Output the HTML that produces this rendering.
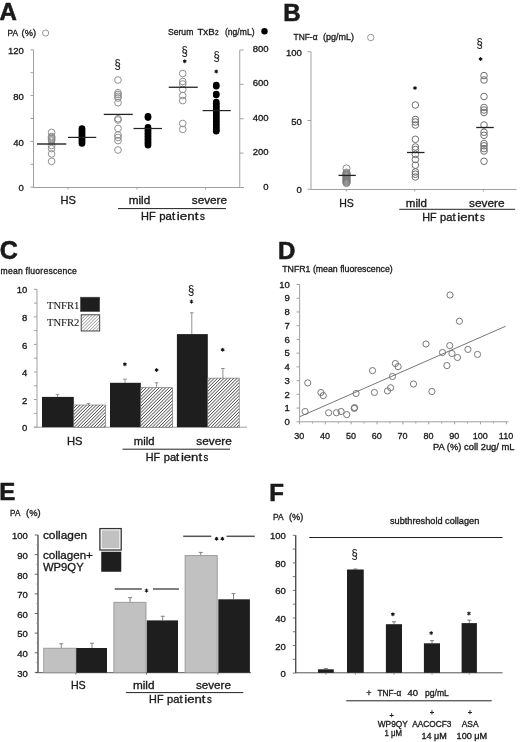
<!DOCTYPE html>
<html><head><meta charset="utf-8"><title>Figure</title>
<style>
html,body{margin:0;padding:0;background:#fff;}
body{width:520px;height:742px;overflow:hidden;}
svg{display:block;font-family:"Liberation Sans",sans-serif;will-change:transform;}
</style></head><body>
<svg width="520" height="742" viewBox="0 0 520 742" fill="#1a1a1a">
<rect width="520" height="742" fill="#fff"/>
<text x="-0.50" y="20.30" font-size="24" stroke="#1a1a1a" stroke-width="0.6" font-weight="bold">A</text>
<text x="7.60" y="35.60" font-size="9" stroke="#1a1a1a" stroke-width="0.32" textLength="10.60" lengthAdjust="spacingAndGlyphs">PA</text>
<text x="21.60" y="35.60" font-size="9" stroke="#1a1a1a" stroke-width="0.32" textLength="14.40" lengthAdjust="spacingAndGlyphs">(%)</text>
<circle cx="45.60" cy="33.00" r="3.1" fill="none" stroke="#8a8a8a" stroke-width="0.9"/>
<line x1="33.50" y1="49.80" x2="33.50" y2="187.50" stroke="#a0a0a0" stroke-width="1"/>
<line x1="30.50" y1="187.20" x2="33.50" y2="187.20" stroke="#a0a0a0" stroke-width="1"/>
<line x1="30.50" y1="164.30" x2="33.50" y2="164.30" stroke="#a0a0a0" stroke-width="1"/>
<line x1="30.50" y1="141.40" x2="33.50" y2="141.40" stroke="#a0a0a0" stroke-width="1"/>
<line x1="30.50" y1="118.50" x2="33.50" y2="118.50" stroke="#a0a0a0" stroke-width="1"/>
<line x1="30.50" y1="95.60" x2="33.50" y2="95.60" stroke="#a0a0a0" stroke-width="1"/>
<line x1="30.50" y1="72.70" x2="33.50" y2="72.70" stroke="#a0a0a0" stroke-width="1"/>
<line x1="30.50" y1="49.80" x2="33.50" y2="49.80" stroke="#a0a0a0" stroke-width="1"/>
<text x="23.80" y="191.34" font-size="9" stroke="#1a1a1a" stroke-width="0.32" text-anchor="end" textLength="5.30" lengthAdjust="spacingAndGlyphs">0</text>
<text x="23.80" y="145.54" font-size="9" stroke="#1a1a1a" stroke-width="0.32" text-anchor="end" textLength="10.60" lengthAdjust="spacingAndGlyphs">40</text>
<text x="23.80" y="99.74" font-size="9" stroke="#1a1a1a" stroke-width="0.32" text-anchor="end" textLength="10.60" lengthAdjust="spacingAndGlyphs">80</text>
<text x="23.80" y="53.94" font-size="9" stroke="#1a1a1a" stroke-width="0.32" text-anchor="end" textLength="15.90" lengthAdjust="spacingAndGlyphs">120</text>
<line x1="33.00" y1="187.50" x2="244.00" y2="187.50" stroke="#a0a0a0" stroke-width="1"/>
<line x1="68.00" y1="187.50" x2="68.00" y2="189.50" stroke="#a0a0a0" stroke-width="1"/>
<line x1="137.00" y1="187.50" x2="137.00" y2="189.50" stroke="#a0a0a0" stroke-width="1"/>
<line x1="205.50" y1="187.50" x2="205.50" y2="189.50" stroke="#a0a0a0" stroke-width="1"/>
<line x1="239.75" y1="50.00" x2="239.75" y2="187.50" stroke="#a0a0a0" stroke-width="1"/>
<line x1="239.75" y1="187.50" x2="243.50" y2="187.50" stroke="#a0a0a0" stroke-width="1"/>
<text x="268.60" y="189.54" font-size="9" stroke="#1a1a1a" stroke-width="0.32" text-anchor="end" textLength="5.30" lengthAdjust="spacingAndGlyphs">0</text>
<line x1="239.75" y1="153.12" x2="243.50" y2="153.12" stroke="#a0a0a0" stroke-width="1"/>
<text x="268.60" y="155.17" font-size="9" stroke="#1a1a1a" stroke-width="0.32" text-anchor="end" textLength="15.90" lengthAdjust="spacingAndGlyphs">200</text>
<line x1="239.75" y1="118.75" x2="243.50" y2="118.75" stroke="#a0a0a0" stroke-width="1"/>
<text x="268.60" y="120.79" font-size="9" stroke="#1a1a1a" stroke-width="0.32" text-anchor="end" textLength="15.90" lengthAdjust="spacingAndGlyphs">400</text>
<line x1="239.75" y1="84.38" x2="243.50" y2="84.38" stroke="#a0a0a0" stroke-width="1"/>
<text x="268.60" y="86.41" font-size="9" stroke="#1a1a1a" stroke-width="0.32" text-anchor="end" textLength="15.90" lengthAdjust="spacingAndGlyphs">600</text>
<line x1="239.75" y1="50.00" x2="243.50" y2="50.00" stroke="#a0a0a0" stroke-width="1"/>
<text x="268.60" y="52.04" font-size="9" stroke="#1a1a1a" stroke-width="0.32" text-anchor="end" textLength="15.90" lengthAdjust="spacingAndGlyphs">800</text>
<text x="168.00" y="34.60" font-size="9" stroke="#1a1a1a" stroke-width="0.32" textLength="25.30" lengthAdjust="spacingAndGlyphs">Serum</text>
<text x="197.40" y="34.60" font-size="9" stroke="#1a1a1a" stroke-width="0.32" textLength="17.20" lengthAdjust="spacingAndGlyphs">TxB</text>
<text x="214.90" y="34.60" font-size="6.5" stroke="#1a1a1a" stroke-width="0.32">2</text>
<text x="225.00" y="34.60" font-size="9" stroke="#1a1a1a" stroke-width="0.32" textLength="29.50" lengthAdjust="spacingAndGlyphs">(ng/mL)</text>
<circle cx="264.50" cy="31.25" r="3.2" fill="#000" stroke="none" stroke-width="1"/>
<circle cx="51.60" cy="132.40" r="3.35" fill="none" stroke="#8a8a8a" stroke-width="0.95"/>
<circle cx="51.60" cy="136.50" r="3.35" fill="none" stroke="#8a8a8a" stroke-width="0.95"/>
<circle cx="51.60" cy="137.60" r="3.35" fill="none" stroke="#8a8a8a" stroke-width="0.95"/>
<circle cx="51.60" cy="138.70" r="3.35" fill="none" stroke="#8a8a8a" stroke-width="0.95"/>
<circle cx="51.60" cy="139.80" r="3.35" fill="none" stroke="#8a8a8a" stroke-width="0.95"/>
<circle cx="51.60" cy="141.00" r="3.35" fill="none" stroke="#8a8a8a" stroke-width="0.95"/>
<circle cx="51.60" cy="145.50" r="3.35" fill="none" stroke="#8a8a8a" stroke-width="0.95"/>
<circle cx="51.60" cy="148.60" r="3.35" fill="none" stroke="#8a8a8a" stroke-width="0.95"/>
<circle cx="51.60" cy="153.90" r="3.35" fill="none" stroke="#8a8a8a" stroke-width="0.95"/>
<circle cx="51.60" cy="161.30" r="3.35" fill="none" stroke="#8a8a8a" stroke-width="0.95"/>
<line x1="37.00" y1="144.00" x2="66.25" y2="144.00" stroke="#222" stroke-width="1.4"/>
<circle cx="82.00" cy="128.50" r="3.3" fill="#000" stroke="none" stroke-width="1"/>
<circle cx="82.00" cy="130.00" r="3.3" fill="#000" stroke="none" stroke-width="1"/>
<circle cx="82.00" cy="131.50" r="3.3" fill="#000" stroke="none" stroke-width="1"/>
<circle cx="82.00" cy="133.00" r="3.3" fill="#000" stroke="none" stroke-width="1"/>
<circle cx="82.00" cy="134.50" r="3.3" fill="#000" stroke="none" stroke-width="1"/>
<circle cx="82.00" cy="136.00" r="3.3" fill="#000" stroke="none" stroke-width="1"/>
<circle cx="82.00" cy="137.50" r="3.3" fill="#000" stroke="none" stroke-width="1"/>
<circle cx="82.00" cy="139.00" r="3.3" fill="#000" stroke="none" stroke-width="1"/>
<circle cx="82.00" cy="140.50" r="3.3" fill="#000" stroke="none" stroke-width="1"/>
<circle cx="82.00" cy="142.00" r="3.3" fill="#000" stroke="none" stroke-width="1"/>
<circle cx="82.00" cy="143.50" r="3.3" fill="#000" stroke="none" stroke-width="1"/>
<line x1="68.00" y1="137.40" x2="96.25" y2="137.40" stroke="#222" stroke-width="1.2"/>
<text x="117.50" y="67.99" font-size="13" stroke="#1a1a1a" stroke-width="0.12" text-anchor="middle" textLength="6.24" lengthAdjust="spacingAndGlyphs">&#167;</text>
<circle cx="118.00" cy="80.00" r="3.35" fill="none" stroke="#8a8a8a" stroke-width="0.95"/>
<circle cx="118.00" cy="92.80" r="3.35" fill="none" stroke="#8a8a8a" stroke-width="0.95"/>
<circle cx="118.00" cy="94.50" r="3.35" fill="none" stroke="#8a8a8a" stroke-width="0.95"/>
<circle cx="118.00" cy="96.30" r="3.35" fill="none" stroke="#8a8a8a" stroke-width="0.95"/>
<circle cx="118.00" cy="98.00" r="3.35" fill="none" stroke="#8a8a8a" stroke-width="0.95"/>
<circle cx="118.00" cy="102.70" r="3.35" fill="none" stroke="#8a8a8a" stroke-width="0.95"/>
<circle cx="118.00" cy="118.75" r="3.35" fill="none" stroke="#8a8a8a" stroke-width="0.95"/>
<circle cx="118.00" cy="120.00" r="3.35" fill="none" stroke="#8a8a8a" stroke-width="0.95"/>
<circle cx="118.00" cy="128.50" r="3.35" fill="none" stroke="#8a8a8a" stroke-width="0.95"/>
<circle cx="118.00" cy="135.00" r="3.35" fill="none" stroke="#8a8a8a" stroke-width="0.95"/>
<circle cx="118.00" cy="137.50" r="3.35" fill="none" stroke="#8a8a8a" stroke-width="0.95"/>
<circle cx="118.00" cy="140.60" r="3.35" fill="none" stroke="#8a8a8a" stroke-width="0.95"/>
<circle cx="118.00" cy="150.00" r="3.35" fill="none" stroke="#8a8a8a" stroke-width="0.95"/>
<line x1="103.75" y1="114.40" x2="132.75" y2="114.40" stroke="#222" stroke-width="1.3"/>
<circle cx="148.00" cy="116.20" r="3.3" fill="#000" stroke="none" stroke-width="1"/>
<circle cx="148.00" cy="117.60" r="3.3" fill="#000" stroke="none" stroke-width="1"/>
<circle cx="148.00" cy="127.20" r="3.3" fill="#000" stroke="none" stroke-width="1"/>
<circle cx="148.00" cy="128.70" r="3.3" fill="#000" stroke="none" stroke-width="1"/>
<circle cx="148.00" cy="130.20" r="3.3" fill="#000" stroke="none" stroke-width="1"/>
<circle cx="148.00" cy="131.70" r="3.3" fill="#000" stroke="none" stroke-width="1"/>
<circle cx="148.00" cy="133.20" r="3.3" fill="#000" stroke="none" stroke-width="1"/>
<circle cx="148.00" cy="134.70" r="3.3" fill="#000" stroke="none" stroke-width="1"/>
<circle cx="148.00" cy="136.20" r="3.3" fill="#000" stroke="none" stroke-width="1"/>
<circle cx="148.00" cy="137.70" r="3.3" fill="#000" stroke="none" stroke-width="1"/>
<circle cx="148.00" cy="139.20" r="3.3" fill="#000" stroke="none" stroke-width="1"/>
<circle cx="148.00" cy="140.70" r="3.3" fill="#000" stroke="none" stroke-width="1"/>
<circle cx="148.00" cy="142.20" r="3.3" fill="#000" stroke="none" stroke-width="1"/>
<circle cx="148.00" cy="143.70" r="3.3" fill="#000" stroke="none" stroke-width="1"/>
<circle cx="148.00" cy="145.20" r="3.3" fill="#000" stroke="none" stroke-width="1"/>
<line x1="133.50" y1="128.50" x2="162.00" y2="128.50" stroke="#222" stroke-width="1.2"/>
<text x="184.70" y="55.09" font-size="13" stroke="#1a1a1a" stroke-width="0.12" text-anchor="middle" textLength="6.24" lengthAdjust="spacingAndGlyphs">&#167;</text>
<path d="M184.75 59.75L184.75 62.75M186.05 60.50L183.45 62.00M186.05 62.00L183.45 60.50" stroke="#111" stroke-width="1.05" stroke-linecap="round"/>
<circle cx="182.75" cy="73.50" r="3.35" fill="none" stroke="#8a8a8a" stroke-width="0.95"/>
<circle cx="182.75" cy="81.50" r="3.35" fill="none" stroke="#8a8a8a" stroke-width="0.95"/>
<circle cx="182.75" cy="84.00" r="3.35" fill="none" stroke="#8a8a8a" stroke-width="0.95"/>
<circle cx="182.75" cy="89.40" r="3.35" fill="none" stroke="#8a8a8a" stroke-width="0.95"/>
<circle cx="182.75" cy="95.60" r="3.35" fill="none" stroke="#8a8a8a" stroke-width="0.95"/>
<circle cx="182.75" cy="100.60" r="3.35" fill="none" stroke="#8a8a8a" stroke-width="0.95"/>
<circle cx="182.75" cy="123.50" r="3.35" fill="none" stroke="#8a8a8a" stroke-width="0.95"/>
<circle cx="182.75" cy="129.40" r="3.35" fill="none" stroke="#8a8a8a" stroke-width="0.95"/>
<line x1="168.75" y1="87.25" x2="197.75" y2="87.25" stroke="#222" stroke-width="1.3"/>
<text x="216.50" y="60.49" font-size="13" stroke="#1a1a1a" stroke-width="0.12" text-anchor="middle" textLength="6.24" lengthAdjust="spacingAndGlyphs">&#167;</text>
<path d="M216.25 70.00L216.25 73.00M217.55 70.75L214.95 72.25M217.55 72.25L214.95 70.75" stroke="#111" stroke-width="1.05" stroke-linecap="round"/>
<circle cx="216.25" cy="85.00" r="3.3" fill="#000" stroke="none" stroke-width="1"/>
<circle cx="216.25" cy="86.30" r="3.3" fill="#000" stroke="none" stroke-width="1"/>
<circle cx="216.25" cy="94.00" r="3.3" fill="#000" stroke="none" stroke-width="1"/>
<circle cx="216.25" cy="95.00" r="3.3" fill="#000" stroke="none" stroke-width="1"/>
<circle cx="216.25" cy="102.00" r="3.3" fill="#000" stroke="none" stroke-width="1"/>
<circle cx="216.25" cy="103.50" r="3.3" fill="#000" stroke="none" stroke-width="1"/>
<circle cx="216.25" cy="105.00" r="3.3" fill="#000" stroke="none" stroke-width="1"/>
<circle cx="216.25" cy="106.50" r="3.3" fill="#000" stroke="none" stroke-width="1"/>
<circle cx="216.25" cy="108.00" r="3.3" fill="#000" stroke="none" stroke-width="1"/>
<circle cx="216.25" cy="109.50" r="3.3" fill="#000" stroke="none" stroke-width="1"/>
<circle cx="216.25" cy="111.00" r="3.3" fill="#000" stroke="none" stroke-width="1"/>
<circle cx="216.25" cy="112.50" r="3.3" fill="#000" stroke="none" stroke-width="1"/>
<circle cx="216.25" cy="114.00" r="3.3" fill="#000" stroke="none" stroke-width="1"/>
<circle cx="216.25" cy="115.50" r="3.3" fill="#000" stroke="none" stroke-width="1"/>
<circle cx="216.25" cy="117.00" r="3.3" fill="#000" stroke="none" stroke-width="1"/>
<circle cx="216.25" cy="118.50" r="3.3" fill="#000" stroke="none" stroke-width="1"/>
<circle cx="216.25" cy="120.00" r="3.3" fill="#000" stroke="none" stroke-width="1"/>
<circle cx="216.25" cy="121.50" r="3.3" fill="#000" stroke="none" stroke-width="1"/>
<circle cx="216.25" cy="123.00" r="3.3" fill="#000" stroke="none" stroke-width="1"/>
<circle cx="216.25" cy="124.50" r="3.3" fill="#000" stroke="none" stroke-width="1"/>
<circle cx="216.25" cy="126.00" r="3.3" fill="#000" stroke="none" stroke-width="1"/>
<circle cx="216.25" cy="127.50" r="3.3" fill="#000" stroke="none" stroke-width="1"/>
<circle cx="216.25" cy="129.00" r="3.3" fill="#000" stroke="none" stroke-width="1"/>
<circle cx="216.25" cy="130.50" r="3.3" fill="#000" stroke="none" stroke-width="1"/>
<circle cx="216.25" cy="131.20" r="3.3" fill="#000" stroke="none" stroke-width="1"/>
<line x1="202.60" y1="110.60" x2="230.70" y2="110.60" stroke="#222" stroke-width="1.2"/>
<text x="60.50" y="204.30" font-size="10.5" stroke="#1a1a1a" stroke-width="0.32" textLength="15.30" lengthAdjust="spacingAndGlyphs">HS</text>
<text x="128.75" y="204.40" font-size="10.5" stroke="#1a1a1a" stroke-width="0.32" textLength="21.50" lengthAdjust="spacingAndGlyphs">mild</text>
<text x="191.75" y="204.40" font-size="10.5" stroke="#1a1a1a" stroke-width="0.32" textLength="35.30" lengthAdjust="spacingAndGlyphs">severe</text>
<line x1="118.00" y1="208.60" x2="226.00" y2="208.60" stroke="#222" stroke-width="1"/>
<text x="141.00" y="220.00" font-size="10.5" stroke="#1a1a1a" stroke-width="0.32" textLength="14.63" lengthAdjust="spacingAndGlyphs">HF</text>
<text x="159.29" y="220.00" font-size="10.5" stroke="#1a1a1a" stroke-width="0.32" textLength="15.85" lengthAdjust="spacingAndGlyphs">pat</text>
<text x="176.86" y="220.00" font-size="10.5" stroke="#1a1a1a" stroke-width="0.32" textLength="21.54" lengthAdjust="spacingAndGlyphs">ient</text>
<text x="199.93" y="220.00" font-size="10.5" stroke="#1a1a1a" stroke-width="0.32" textLength="4.88" lengthAdjust="spacingAndGlyphs">s</text>
<text x="283.30" y="21.00" font-size="24" stroke="#1a1a1a" stroke-width="0.6" font-weight="bold">B</text>
<text x="293.50" y="40.30" font-size="9" stroke="#1a1a1a" stroke-width="0.32" textLength="24.00" lengthAdjust="spacingAndGlyphs">TNF-&#945;</text>
<text x="323.00" y="40.30" font-size="9" stroke="#1a1a1a" stroke-width="0.32" textLength="31.00" lengthAdjust="spacingAndGlyphs">(pg/mL)</text>
<circle cx="370.75" cy="37.50" r="3.2" fill="none" stroke="#8a8a8a" stroke-width="0.9"/>
<line x1="311.00" y1="51.75" x2="311.00" y2="189.50" stroke="#a0a0a0" stroke-width="1"/>
<line x1="307.50" y1="189.25" x2="311.00" y2="189.25" stroke="#a0a0a0" stroke-width="1"/>
<line x1="307.50" y1="120.50" x2="311.00" y2="120.50" stroke="#a0a0a0" stroke-width="1"/>
<line x1="307.50" y1="51.75" x2="311.00" y2="51.75" stroke="#a0a0a0" stroke-width="1"/>
<text x="301.80" y="193.29" font-size="9" stroke="#1a1a1a" stroke-width="0.32" text-anchor="end" textLength="5.30" lengthAdjust="spacingAndGlyphs">0</text>
<text x="301.80" y="124.54" font-size="9" stroke="#1a1a1a" stroke-width="0.32" text-anchor="end" textLength="10.60" lengthAdjust="spacingAndGlyphs">50</text>
<text x="301.80" y="55.79" font-size="9" stroke="#1a1a1a" stroke-width="0.32" text-anchor="end" textLength="15.90" lengthAdjust="spacingAndGlyphs">100</text>
<line x1="311.00" y1="189.50" x2="516.50" y2="189.50" stroke="#a0a0a0" stroke-width="1"/>
<line x1="346.25" y1="189.50" x2="346.25" y2="191.50" stroke="#a0a0a0" stroke-width="1"/>
<line x1="414.75" y1="189.50" x2="414.75" y2="191.50" stroke="#a0a0a0" stroke-width="1"/>
<line x1="483.25" y1="189.50" x2="483.25" y2="191.50" stroke="#a0a0a0" stroke-width="1"/>
<circle cx="346.50" cy="168.40" r="3.55" fill="none" stroke="#7a7a7a" stroke-width="0.85"/>
<circle cx="346.50" cy="172.60" r="3.55" fill="none" stroke="#7a7a7a" stroke-width="0.85"/>
<circle cx="346.50" cy="173.35" r="3.55" fill="none" stroke="#7a7a7a" stroke-width="0.85"/>
<circle cx="346.50" cy="174.10" r="3.55" fill="none" stroke="#7a7a7a" stroke-width="0.85"/>
<circle cx="346.50" cy="174.85" r="3.55" fill="none" stroke="#7a7a7a" stroke-width="0.85"/>
<circle cx="346.50" cy="175.60" r="3.55" fill="none" stroke="#7a7a7a" stroke-width="0.85"/>
<circle cx="346.50" cy="176.35" r="3.55" fill="none" stroke="#7a7a7a" stroke-width="0.85"/>
<circle cx="346.50" cy="177.10" r="3.55" fill="none" stroke="#7a7a7a" stroke-width="0.85"/>
<circle cx="346.50" cy="177.85" r="3.55" fill="none" stroke="#7a7a7a" stroke-width="0.85"/>
<circle cx="346.50" cy="178.60" r="3.55" fill="none" stroke="#7a7a7a" stroke-width="0.85"/>
<circle cx="346.50" cy="179.35" r="3.55" fill="none" stroke="#7a7a7a" stroke-width="0.85"/>
<circle cx="346.50" cy="180.10" r="3.55" fill="none" stroke="#7a7a7a" stroke-width="0.85"/>
<circle cx="346.50" cy="180.85" r="3.55" fill="none" stroke="#7a7a7a" stroke-width="0.85"/>
<circle cx="346.50" cy="181.60" r="3.55" fill="none" stroke="#7a7a7a" stroke-width="0.85"/>
<circle cx="346.50" cy="182.35" r="3.55" fill="none" stroke="#7a7a7a" stroke-width="0.85"/>
<circle cx="346.50" cy="183.10" r="3.55" fill="none" stroke="#7a7a7a" stroke-width="0.85"/>
<line x1="338.50" y1="175.40" x2="355.80" y2="175.40" stroke="#222" stroke-width="1.3"/>
<path d="M415.00 86.50L415.00 89.50M416.30 87.25L413.70 88.75M416.30 88.75L413.70 87.25" stroke="#111" stroke-width="1.05" stroke-linecap="round"/>
<circle cx="415.40" cy="105.00" r="3.3" fill="none" stroke="#707070" stroke-width="1"/>
<circle cx="415.40" cy="119.50" r="3.3" fill="none" stroke="#707070" stroke-width="1"/>
<circle cx="415.40" cy="122.00" r="3.3" fill="none" stroke="#707070" stroke-width="1"/>
<circle cx="415.40" cy="125.00" r="3.3" fill="none" stroke="#707070" stroke-width="1"/>
<circle cx="415.40" cy="139.30" r="3.3" fill="none" stroke="#707070" stroke-width="1"/>
<circle cx="415.40" cy="147.00" r="3.3" fill="none" stroke="#707070" stroke-width="1"/>
<circle cx="415.40" cy="149.50" r="3.3" fill="none" stroke="#707070" stroke-width="1"/>
<circle cx="415.40" cy="154.40" r="3.3" fill="none" stroke="#707070" stroke-width="1"/>
<circle cx="415.40" cy="159.50" r="3.3" fill="none" stroke="#707070" stroke-width="1"/>
<circle cx="415.40" cy="165.20" r="3.3" fill="none" stroke="#707070" stroke-width="1"/>
<circle cx="415.40" cy="172.00" r="3.3" fill="none" stroke="#707070" stroke-width="1"/>
<circle cx="415.40" cy="174.20" r="3.3" fill="none" stroke="#707070" stroke-width="1"/>
<circle cx="415.40" cy="177.00" r="3.3" fill="none" stroke="#707070" stroke-width="1"/>
<line x1="407.00" y1="152.50" x2="424.50" y2="152.50" stroke="#222" stroke-width="1.3"/>
<text x="479.70" y="46.74" font-size="13" stroke="#1a1a1a" stroke-width="0.12" text-anchor="middle" textLength="6.24" lengthAdjust="spacingAndGlyphs">&#167;</text>
<path d="M480.60 57.50L480.60 60.50M481.90 58.25L479.30 59.75M481.90 59.75L479.30 58.25" stroke="#111" stroke-width="1.05" stroke-linecap="round"/>
<circle cx="484.00" cy="75.60" r="3.3" fill="none" stroke="#707070" stroke-width="1"/>
<circle cx="484.00" cy="80.00" r="3.3" fill="none" stroke="#707070" stroke-width="1"/>
<circle cx="484.00" cy="96.50" r="3.3" fill="none" stroke="#707070" stroke-width="1"/>
<circle cx="484.00" cy="107.50" r="3.3" fill="none" stroke="#707070" stroke-width="1"/>
<circle cx="484.00" cy="110.00" r="3.3" fill="none" stroke="#707070" stroke-width="1"/>
<circle cx="484.00" cy="112.50" r="3.3" fill="none" stroke="#707070" stroke-width="1"/>
<circle cx="484.00" cy="125.00" r="3.3" fill="none" stroke="#707070" stroke-width="1"/>
<circle cx="484.00" cy="132.30" r="3.3" fill="none" stroke="#707070" stroke-width="1"/>
<circle cx="484.00" cy="135.30" r="3.3" fill="none" stroke="#707070" stroke-width="1"/>
<circle cx="484.00" cy="143.50" r="3.3" fill="none" stroke="#707070" stroke-width="1"/>
<circle cx="484.00" cy="145.80" r="3.3" fill="none" stroke="#707070" stroke-width="1"/>
<circle cx="484.00" cy="148.60" r="3.3" fill="none" stroke="#707070" stroke-width="1"/>
<circle cx="484.00" cy="151.00" r="3.3" fill="none" stroke="#707070" stroke-width="1"/>
<circle cx="484.00" cy="161.25" r="3.3" fill="none" stroke="#707070" stroke-width="1"/>
<line x1="476.25" y1="127.50" x2="493.75" y2="127.50" stroke="#222" stroke-width="1.3"/>
<text x="339.20" y="207.00" font-size="10.5" stroke="#1a1a1a" stroke-width="0.32" textLength="14.60" lengthAdjust="spacingAndGlyphs">HS</text>
<text x="405.80" y="206.60" font-size="10.5" stroke="#1a1a1a" stroke-width="0.32" textLength="21.20" lengthAdjust="spacingAndGlyphs">mild</text>
<text x="469.00" y="206.60" font-size="10.5" stroke="#1a1a1a" stroke-width="0.32" textLength="35.60" lengthAdjust="spacingAndGlyphs">severe</text>
<line x1="399.30" y1="209.30" x2="515.20" y2="209.30" stroke="#222" stroke-width="1"/>
<text x="422.20" y="220.60" font-size="10.5" stroke="#1a1a1a" stroke-width="0.32" textLength="14.33" lengthAdjust="spacingAndGlyphs">HF</text>
<text x="440.11" y="220.60" font-size="10.5" stroke="#1a1a1a" stroke-width="0.32" textLength="15.53" lengthAdjust="spacingAndGlyphs">pat</text>
<text x="457.33" y="220.60" font-size="10.5" stroke="#1a1a1a" stroke-width="0.32" textLength="21.10" lengthAdjust="spacingAndGlyphs">ient</text>
<text x="479.92" y="220.60" font-size="10.5" stroke="#1a1a1a" stroke-width="0.32" textLength="4.78" lengthAdjust="spacingAndGlyphs">s</text>
<text x="-0.20" y="259.30" font-size="25" stroke="#1a1a1a" stroke-width="0.6" font-weight="bold">C</text>
<text x="0.60" y="273.75" font-size="8.6" stroke="#1a1a1a" stroke-width="0.32" textLength="76.20" lengthAdjust="spacing">mean fluorescence</text>
<line x1="37.00" y1="289.30" x2="37.00" y2="427.50" stroke="#a0a0a0" stroke-width="1"/>
<line x1="34.00" y1="427.10" x2="37.00" y2="427.10" stroke="#a0a0a0" stroke-width="1"/>
<line x1="34.00" y1="413.32" x2="37.00" y2="413.32" stroke="#a0a0a0" stroke-width="1"/>
<line x1="34.00" y1="399.54" x2="37.00" y2="399.54" stroke="#a0a0a0" stroke-width="1"/>
<line x1="34.00" y1="385.76" x2="37.00" y2="385.76" stroke="#a0a0a0" stroke-width="1"/>
<line x1="34.00" y1="371.98" x2="37.00" y2="371.98" stroke="#a0a0a0" stroke-width="1"/>
<line x1="34.00" y1="358.20" x2="37.00" y2="358.20" stroke="#a0a0a0" stroke-width="1"/>
<line x1="34.00" y1="344.42" x2="37.00" y2="344.42" stroke="#a0a0a0" stroke-width="1"/>
<line x1="34.00" y1="330.64" x2="37.00" y2="330.64" stroke="#a0a0a0" stroke-width="1"/>
<line x1="34.00" y1="316.86" x2="37.00" y2="316.86" stroke="#a0a0a0" stroke-width="1"/>
<line x1="34.00" y1="303.08" x2="37.00" y2="303.08" stroke="#a0a0a0" stroke-width="1"/>
<line x1="34.00" y1="289.30" x2="37.00" y2="289.30" stroke="#a0a0a0" stroke-width="1"/>
<text x="27.30" y="431.24" font-size="9" stroke="#1a1a1a" stroke-width="0.32" text-anchor="end" textLength="5.30" lengthAdjust="spacingAndGlyphs">0</text>
<text x="27.30" y="403.68" font-size="9" stroke="#1a1a1a" stroke-width="0.32" text-anchor="end" textLength="5.30" lengthAdjust="spacingAndGlyphs">2</text>
<text x="27.30" y="376.12" font-size="9" stroke="#1a1a1a" stroke-width="0.32" text-anchor="end" textLength="5.30" lengthAdjust="spacingAndGlyphs">4</text>
<text x="27.30" y="348.56" font-size="9" stroke="#1a1a1a" stroke-width="0.32" text-anchor="end" textLength="5.30" lengthAdjust="spacingAndGlyphs">6</text>
<text x="27.30" y="321.00" font-size="9" stroke="#1a1a1a" stroke-width="0.32" text-anchor="end" textLength="5.30" lengthAdjust="spacingAndGlyphs">8</text>
<text x="27.30" y="293.44" font-size="9" stroke="#1a1a1a" stroke-width="0.32" text-anchor="end" textLength="10.60" lengthAdjust="spacingAndGlyphs">10</text>
<line x1="34.00" y1="427.20" x2="247.00" y2="427.20" stroke="#a0a0a0" stroke-width="1"/>
<defs><pattern id="hatch" patternUnits="userSpaceOnUse" width="2.3" height="2.3" patternTransform="rotate(45)"><line x1="0" y1="0" x2="0" y2="2.3" stroke="#1e1e1e" stroke-width="1.2"/></pattern><pattern id="hatch3" patternUnits="userSpaceOnUse" width="2.3" height="2.3" patternTransform="rotate(45)"><line x1="0" y1="0" x2="0" y2="2.3" stroke="#444" stroke-width="0.8"/></pattern><pattern id="hatch2" patternUnits="userSpaceOnUse" width="5" height="5" patternTransform="rotate(45)"><line x1="0" y1="0" x2="0" y2="5" stroke="#a8a8a8" stroke-width="1"/></pattern></defs>
<line x1="57.50" y1="394.60" x2="57.50" y2="396.90" stroke="#777" stroke-width="0.8"/>
<line x1="55.70" y1="394.60" x2="59.30" y2="394.60" stroke="#777" stroke-width="0.8"/>
<rect x="42.00" y="396.90" width="31.80" height="30.30" fill="#1e1e1e" stroke="none" stroke-width="1"/>
<line x1="88.50" y1="403.40" x2="88.50" y2="405.00" stroke="#777" stroke-width="0.8"/>
<line x1="86.70" y1="403.40" x2="90.30" y2="403.40" stroke="#777" stroke-width="0.8"/>
<rect x="73.80" y="405.00" width="31.70" height="22.20" fill="#fff" stroke="none" stroke-width="1"/>
<rect x="73.80" y="405.00" width="31.70" height="22.20" fill="url(#hatch)" stroke="#666" stroke-width="0.6"/>
<line x1="125.00" y1="379.20" x2="125.00" y2="382.80" stroke="#777" stroke-width="0.8"/>
<line x1="123.20" y1="379.20" x2="126.80" y2="379.20" stroke="#777" stroke-width="0.8"/>
<rect x="110.00" y="382.80" width="30.80" height="44.40" fill="#1e1e1e" stroke="none" stroke-width="1"/>
<line x1="156.60" y1="382.80" x2="156.60" y2="387.70" stroke="#777" stroke-width="0.8"/>
<line x1="154.80" y1="382.80" x2="158.40" y2="382.80" stroke="#777" stroke-width="0.8"/>
<rect x="140.80" y="387.70" width="31.80" height="39.50" fill="#fff" stroke="none" stroke-width="1"/>
<rect x="140.80" y="387.70" width="31.80" height="39.50" fill="url(#hatch)" stroke="#666" stroke-width="0.6"/>
<line x1="191.80" y1="312.80" x2="191.80" y2="334.10" stroke="#777" stroke-width="0.8"/>
<line x1="190.00" y1="312.80" x2="193.60" y2="312.80" stroke="#777" stroke-width="0.8"/>
<rect x="176.90" y="334.10" width="30.90" height="93.10" fill="#1e1e1e" stroke="none" stroke-width="1"/>
<line x1="222.90" y1="368.50" x2="222.90" y2="378.10" stroke="#777" stroke-width="0.8"/>
<line x1="221.10" y1="368.50" x2="224.70" y2="368.50" stroke="#777" stroke-width="0.8"/>
<rect x="207.80" y="378.10" width="31.40" height="49.10" fill="#fff" stroke="none" stroke-width="1"/>
<rect x="207.80" y="378.10" width="31.40" height="49.10" fill="url(#hatch)" stroke="#666" stroke-width="0.6"/>
<path d="M124.90 362.70L124.90 365.70M126.20 363.45L123.60 364.95M126.20 364.95L123.60 363.45" stroke="#111" stroke-width="1.05" stroke-linecap="round"/>
<path d="M156.60 368.50L156.60 371.50M157.90 369.25L155.30 370.75M157.90 370.75L155.30 369.25" stroke="#111" stroke-width="1.05" stroke-linecap="round"/>
<path d="M191.50 300.10L191.50 303.10M192.80 300.85L190.20 302.35M192.80 302.35L190.20 300.85" stroke="#111" stroke-width="1.05" stroke-linecap="round"/>
<text x="191.20" y="293.69" font-size="13" stroke="#1a1a1a" stroke-width="0.12" text-anchor="middle" textLength="6.24" lengthAdjust="spacingAndGlyphs">&#167;</text>
<path d="M222.70 348.20L222.70 351.20M224.00 348.95L221.40 350.45M224.00 350.45L221.40 348.95" stroke="#111" stroke-width="1.05" stroke-linecap="round"/>
<text x="46.90" y="308.75" font-size="10.5" stroke="#1a1a1a" stroke-width="0.1" textLength="32.50" lengthAdjust="spacingAndGlyphs" font-family="Liberation Serif">TNFR1</text>
<rect x="80.50" y="297.20" width="19.20" height="14.30" fill="#1e1e1e" stroke="#444" stroke-width="0.6"/>
<text x="46.90" y="325.60" font-size="10.5" stroke="#1a1a1a" stroke-width="0.1" textLength="32.50" lengthAdjust="spacingAndGlyphs" font-family="Liberation Serif">TNFR2</text>
<rect x="81.20" y="314.80" width="18.50" height="16.20" fill="#fff" stroke="none" stroke-width="1"/>
<rect x="81.20" y="314.80" width="18.50" height="16.20" fill="url(#hatch3)" stroke="#333" stroke-width="0.9"/>
<text x="67.00" y="445.00" font-size="10.5" stroke="#1a1a1a" stroke-width="0.32" textLength="15.50" lengthAdjust="spacingAndGlyphs">HS</text>
<text x="133.75" y="445.00" font-size="10.5" stroke="#1a1a1a" stroke-width="0.32" textLength="20.75" lengthAdjust="spacingAndGlyphs">mild</text>
<text x="196.25" y="445.00" font-size="10.5" stroke="#1a1a1a" stroke-width="0.32" textLength="35.50" lengthAdjust="spacingAndGlyphs">severe</text>
<line x1="122.50" y1="449.20" x2="230.00" y2="449.20" stroke="#222" stroke-width="1"/>
<text x="145.75" y="460.75" font-size="10.5" stroke="#1a1a1a" stroke-width="0.32" textLength="14.34" lengthAdjust="spacingAndGlyphs">HF</text>
<text x="163.68" y="460.75" font-size="10.5" stroke="#1a1a1a" stroke-width="0.32" textLength="15.54" lengthAdjust="spacingAndGlyphs">pat</text>
<text x="180.91" y="460.75" font-size="10.5" stroke="#1a1a1a" stroke-width="0.32" textLength="21.12" lengthAdjust="spacingAndGlyphs">ient</text>
<text x="203.52" y="460.75" font-size="10.5" stroke="#1a1a1a" stroke-width="0.32" textLength="4.78" lengthAdjust="spacingAndGlyphs">s</text>
<text x="278.00" y="259.00" font-size="24" stroke="#1a1a1a" stroke-width="0.6" font-weight="bold">D</text>
<text x="282.25" y="271.90" font-size="8.7" stroke="#1a1a1a" stroke-width="0.32" textLength="110.50" lengthAdjust="spacingAndGlyphs">TNFR1 (mean fluorescence)</text>
<line x1="299.60" y1="284.50" x2="299.60" y2="421.80" stroke="#a0a0a0" stroke-width="1"/>
<line x1="296.50" y1="421.80" x2="299.60" y2="421.80" stroke="#a0a0a0" stroke-width="1"/>
<text x="289.80" y="425.04" font-size="9" stroke="#1a1a1a" stroke-width="0.32" text-anchor="end" textLength="5.30" lengthAdjust="spacingAndGlyphs">0</text>
<line x1="296.50" y1="408.07" x2="299.60" y2="408.07" stroke="#a0a0a0" stroke-width="1"/>
<text x="289.80" y="411.31" font-size="9" stroke="#1a1a1a" stroke-width="0.32" text-anchor="end" textLength="5.30" lengthAdjust="spacingAndGlyphs">1</text>
<line x1="296.50" y1="394.34" x2="299.60" y2="394.34" stroke="#a0a0a0" stroke-width="1"/>
<text x="289.80" y="397.58" font-size="9" stroke="#1a1a1a" stroke-width="0.32" text-anchor="end" textLength="5.30" lengthAdjust="spacingAndGlyphs">2</text>
<line x1="296.50" y1="380.61" x2="299.60" y2="380.61" stroke="#a0a0a0" stroke-width="1"/>
<text x="289.80" y="383.85" font-size="9" stroke="#1a1a1a" stroke-width="0.32" text-anchor="end" textLength="5.30" lengthAdjust="spacingAndGlyphs">3</text>
<line x1="296.50" y1="366.88" x2="299.60" y2="366.88" stroke="#a0a0a0" stroke-width="1"/>
<text x="289.80" y="370.12" font-size="9" stroke="#1a1a1a" stroke-width="0.32" text-anchor="end" textLength="5.30" lengthAdjust="spacingAndGlyphs">4</text>
<line x1="296.50" y1="353.15" x2="299.60" y2="353.15" stroke="#a0a0a0" stroke-width="1"/>
<text x="289.80" y="356.39" font-size="9" stroke="#1a1a1a" stroke-width="0.32" text-anchor="end" textLength="5.30" lengthAdjust="spacingAndGlyphs">5</text>
<line x1="296.50" y1="339.42" x2="299.60" y2="339.42" stroke="#a0a0a0" stroke-width="1"/>
<text x="289.80" y="342.66" font-size="9" stroke="#1a1a1a" stroke-width="0.32" text-anchor="end" textLength="5.30" lengthAdjust="spacingAndGlyphs">6</text>
<line x1="296.50" y1="325.69" x2="299.60" y2="325.69" stroke="#a0a0a0" stroke-width="1"/>
<text x="289.80" y="328.93" font-size="9" stroke="#1a1a1a" stroke-width="0.32" text-anchor="end" textLength="5.30" lengthAdjust="spacingAndGlyphs">7</text>
<line x1="296.50" y1="311.96" x2="299.60" y2="311.96" stroke="#a0a0a0" stroke-width="1"/>
<text x="289.80" y="315.20" font-size="9" stroke="#1a1a1a" stroke-width="0.32" text-anchor="end" textLength="5.30" lengthAdjust="spacingAndGlyphs">8</text>
<line x1="296.50" y1="298.23" x2="299.60" y2="298.23" stroke="#a0a0a0" stroke-width="1"/>
<text x="289.80" y="301.47" font-size="9" stroke="#1a1a1a" stroke-width="0.32" text-anchor="end" textLength="5.30" lengthAdjust="spacingAndGlyphs">9</text>
<line x1="296.50" y1="284.50" x2="299.60" y2="284.50" stroke="#a0a0a0" stroke-width="1"/>
<text x="289.80" y="287.74" font-size="9" stroke="#1a1a1a" stroke-width="0.32" text-anchor="end" textLength="10.60" lengthAdjust="spacingAndGlyphs">10</text>
<line x1="299.60" y1="421.80" x2="508.50" y2="421.80" stroke="#a0a0a0" stroke-width="1"/>
<line x1="299.50" y1="421.80" x2="299.50" y2="424.30" stroke="#a0a0a0" stroke-width="1"/>
<line x1="312.43" y1="421.80" x2="312.43" y2="423.50" stroke="#a0a0a0" stroke-width="1"/>
<line x1="325.35" y1="421.80" x2="325.35" y2="424.30" stroke="#a0a0a0" stroke-width="1"/>
<line x1="338.27" y1="421.80" x2="338.27" y2="423.50" stroke="#a0a0a0" stroke-width="1"/>
<line x1="351.20" y1="421.80" x2="351.20" y2="424.30" stroke="#a0a0a0" stroke-width="1"/>
<line x1="364.12" y1="421.80" x2="364.12" y2="423.50" stroke="#a0a0a0" stroke-width="1"/>
<line x1="377.05" y1="421.80" x2="377.05" y2="424.30" stroke="#a0a0a0" stroke-width="1"/>
<line x1="389.98" y1="421.80" x2="389.98" y2="423.50" stroke="#a0a0a0" stroke-width="1"/>
<line x1="402.90" y1="421.80" x2="402.90" y2="424.30" stroke="#a0a0a0" stroke-width="1"/>
<line x1="415.82" y1="421.80" x2="415.82" y2="423.50" stroke="#a0a0a0" stroke-width="1"/>
<line x1="428.75" y1="421.80" x2="428.75" y2="424.30" stroke="#a0a0a0" stroke-width="1"/>
<line x1="441.68" y1="421.80" x2="441.68" y2="423.50" stroke="#a0a0a0" stroke-width="1"/>
<line x1="454.60" y1="421.80" x2="454.60" y2="424.30" stroke="#a0a0a0" stroke-width="1"/>
<line x1="467.52" y1="421.80" x2="467.52" y2="423.50" stroke="#a0a0a0" stroke-width="1"/>
<line x1="480.45" y1="421.80" x2="480.45" y2="424.30" stroke="#a0a0a0" stroke-width="1"/>
<line x1="493.38" y1="421.80" x2="493.38" y2="423.50" stroke="#a0a0a0" stroke-width="1"/>
<line x1="506.30" y1="421.80" x2="506.30" y2="424.30" stroke="#a0a0a0" stroke-width="1"/>
<text x="299.20" y="439.00" font-size="9" stroke="#1a1a1a" stroke-width="0.32" text-anchor="middle">30</text>
<text x="325.05" y="439.00" font-size="9" stroke="#1a1a1a" stroke-width="0.32" text-anchor="middle">40</text>
<text x="350.90" y="439.00" font-size="9" stroke="#1a1a1a" stroke-width="0.32" text-anchor="middle">50</text>
<text x="376.75" y="439.00" font-size="9" stroke="#1a1a1a" stroke-width="0.32" text-anchor="middle">60</text>
<text x="402.60" y="439.00" font-size="9" stroke="#1a1a1a" stroke-width="0.32" text-anchor="middle">70</text>
<text x="428.45" y="439.00" font-size="9" stroke="#1a1a1a" stroke-width="0.32" text-anchor="middle">80</text>
<text x="454.30" y="439.00" font-size="9" stroke="#1a1a1a" stroke-width="0.32" text-anchor="middle">90</text>
<text x="480.15" y="439.00" font-size="9" stroke="#1a1a1a" stroke-width="0.32" text-anchor="middle">100</text>
<text x="506.00" y="439.00" font-size="9" stroke="#1a1a1a" stroke-width="0.32" text-anchor="middle">110</text>
<text x="433.00" y="450.00" font-size="9" stroke="#1a1a1a" stroke-width="0.32" textLength="81.50" lengthAdjust="spacingAndGlyphs">PA (%) coll 2ug/ mL</text>
<line x1="300.00" y1="416.60" x2="505.70" y2="326.20" stroke="#777" stroke-width="1"/>
<circle cx="307.75" cy="382.90" r="3.1" fill="none" stroke="#6a6a6a" stroke-width="0.9"/>
<circle cx="320.90" cy="392.50" r="3.1" fill="none" stroke="#6a6a6a" stroke-width="0.9"/>
<circle cx="323.25" cy="395.60" r="3.1" fill="none" stroke="#6a6a6a" stroke-width="0.9"/>
<circle cx="305.10" cy="411.50" r="3.1" fill="none" stroke="#6a6a6a" stroke-width="0.9"/>
<circle cx="328.60" cy="412.75" r="3.1" fill="none" stroke="#6a6a6a" stroke-width="0.9"/>
<circle cx="336.40" cy="412.75" r="3.1" fill="none" stroke="#6a6a6a" stroke-width="0.9"/>
<circle cx="341.10" cy="411.50" r="3.1" fill="none" stroke="#6a6a6a" stroke-width="0.9"/>
<circle cx="346.75" cy="414.60" r="3.1" fill="none" stroke="#6a6a6a" stroke-width="0.9"/>
<circle cx="354.25" cy="408.40" r="3.1" fill="none" stroke="#6a6a6a" stroke-width="0.9"/>
<circle cx="354.60" cy="407.60" r="3.1" fill="none" stroke="#6a6a6a" stroke-width="0.9"/>
<circle cx="356.10" cy="393.50" r="3.1" fill="none" stroke="#6a6a6a" stroke-width="0.9"/>
<circle cx="372.50" cy="370.60" r="3.1" fill="none" stroke="#6a6a6a" stroke-width="0.9"/>
<circle cx="395.40" cy="363.50" r="3.1" fill="none" stroke="#6a6a6a" stroke-width="0.9"/>
<circle cx="398.10" cy="366.60" r="3.1" fill="none" stroke="#6a6a6a" stroke-width="0.9"/>
<circle cx="392.50" cy="376.50" r="3.1" fill="none" stroke="#6a6a6a" stroke-width="0.9"/>
<circle cx="413.50" cy="384.00" r="3.1" fill="none" stroke="#6a6a6a" stroke-width="0.9"/>
<circle cx="374.40" cy="392.50" r="3.1" fill="none" stroke="#6a6a6a" stroke-width="0.9"/>
<circle cx="387.50" cy="390.90" r="3.1" fill="none" stroke="#6a6a6a" stroke-width="0.9"/>
<circle cx="390.60" cy="387.75" r="3.1" fill="none" stroke="#6a6a6a" stroke-width="0.9"/>
<circle cx="450.00" cy="295.00" r="3.1" fill="none" stroke="#6a6a6a" stroke-width="0.9"/>
<circle cx="459.40" cy="321.25" r="3.1" fill="none" stroke="#6a6a6a" stroke-width="0.9"/>
<circle cx="426.00" cy="344.00" r="3.1" fill="none" stroke="#6a6a6a" stroke-width="0.9"/>
<circle cx="449.75" cy="345.60" r="3.1" fill="none" stroke="#6a6a6a" stroke-width="0.9"/>
<circle cx="442.50" cy="352.50" r="3.1" fill="none" stroke="#6a6a6a" stroke-width="0.9"/>
<circle cx="451.90" cy="353.50" r="3.1" fill="none" stroke="#6a6a6a" stroke-width="0.9"/>
<circle cx="457.50" cy="357.50" r="3.1" fill="none" stroke="#6a6a6a" stroke-width="0.9"/>
<circle cx="467.90" cy="349.40" r="3.1" fill="none" stroke="#6a6a6a" stroke-width="0.9"/>
<circle cx="477.50" cy="354.40" r="3.1" fill="none" stroke="#6a6a6a" stroke-width="0.9"/>
<circle cx="446.90" cy="365.60" r="3.1" fill="none" stroke="#6a6a6a" stroke-width="0.9"/>
<circle cx="431.90" cy="391.50" r="3.1" fill="none" stroke="#6a6a6a" stroke-width="0.9"/>
<text x="-0.70" y="499.70" font-size="24" stroke="#1a1a1a" stroke-width="0.6" font-weight="bold">E</text>
<text x="10.10" y="516.00" font-size="9" stroke="#1a1a1a" stroke-width="0.32" textLength="10.20" lengthAdjust="spacingAndGlyphs">PA</text>
<text x="26.00" y="516.00" font-size="9" stroke="#1a1a1a" stroke-width="0.32" textLength="14.60" lengthAdjust="spacingAndGlyphs">(%)</text>
<line x1="38.00" y1="535.00" x2="38.00" y2="672.80" stroke="#333" stroke-width="1.2"/>
<line x1="34.80" y1="672.40" x2="38.00" y2="672.40" stroke="#555" stroke-width="0.9"/>
<line x1="36.30" y1="662.59" x2="38.00" y2="662.59" stroke="#888" stroke-width="0.7"/>
<line x1="34.80" y1="652.77" x2="38.00" y2="652.77" stroke="#555" stroke-width="0.9"/>
<line x1="36.30" y1="642.96" x2="38.00" y2="642.96" stroke="#888" stroke-width="0.7"/>
<line x1="34.80" y1="633.14" x2="38.00" y2="633.14" stroke="#555" stroke-width="0.9"/>
<line x1="36.30" y1="623.33" x2="38.00" y2="623.33" stroke="#888" stroke-width="0.7"/>
<line x1="34.80" y1="613.51" x2="38.00" y2="613.51" stroke="#555" stroke-width="0.9"/>
<line x1="36.30" y1="603.70" x2="38.00" y2="603.70" stroke="#888" stroke-width="0.7"/>
<line x1="34.80" y1="593.89" x2="38.00" y2="593.89" stroke="#555" stroke-width="0.9"/>
<line x1="36.30" y1="584.07" x2="38.00" y2="584.07" stroke="#888" stroke-width="0.7"/>
<line x1="34.80" y1="574.26" x2="38.00" y2="574.26" stroke="#555" stroke-width="0.9"/>
<line x1="36.30" y1="564.44" x2="38.00" y2="564.44" stroke="#888" stroke-width="0.7"/>
<line x1="34.80" y1="554.63" x2="38.00" y2="554.63" stroke="#555" stroke-width="0.9"/>
<line x1="36.30" y1="544.81" x2="38.00" y2="544.81" stroke="#888" stroke-width="0.7"/>
<line x1="34.80" y1="535.00" x2="38.00" y2="535.00" stroke="#555" stroke-width="0.9"/>
<text x="27.80" y="676.74" font-size="9" stroke="#1a1a1a" stroke-width="0.32" text-anchor="end" textLength="10.60" lengthAdjust="spacingAndGlyphs">30</text>
<text x="27.80" y="657.11" font-size="9" stroke="#1a1a1a" stroke-width="0.32" text-anchor="end" textLength="10.60" lengthAdjust="spacingAndGlyphs">40</text>
<text x="27.80" y="637.48" font-size="9" stroke="#1a1a1a" stroke-width="0.32" text-anchor="end" textLength="10.60" lengthAdjust="spacingAndGlyphs">50</text>
<text x="27.80" y="617.85" font-size="9" stroke="#1a1a1a" stroke-width="0.32" text-anchor="end" textLength="10.60" lengthAdjust="spacingAndGlyphs">60</text>
<text x="27.80" y="598.23" font-size="9" stroke="#1a1a1a" stroke-width="0.32" text-anchor="end" textLength="10.60" lengthAdjust="spacingAndGlyphs">70</text>
<text x="27.80" y="578.60" font-size="9" stroke="#1a1a1a" stroke-width="0.32" text-anchor="end" textLength="10.60" lengthAdjust="spacingAndGlyphs">80</text>
<text x="27.80" y="558.97" font-size="9" stroke="#1a1a1a" stroke-width="0.32" text-anchor="end" textLength="10.60" lengthAdjust="spacingAndGlyphs">90</text>
<text x="27.80" y="539.34" font-size="9" stroke="#1a1a1a" stroke-width="0.32" text-anchor="end" textLength="15.90" lengthAdjust="spacingAndGlyphs">100</text>
<line x1="35.50" y1="672.70" x2="251.00" y2="672.70" stroke="#555" stroke-width="1"/>
<line x1="75.80" y1="672.70" x2="75.80" y2="674.70" stroke="#555" stroke-width="0.8"/>
<line x1="146.50" y1="672.70" x2="146.50" y2="674.70" stroke="#555" stroke-width="0.8"/>
<line x1="217.80" y1="672.70" x2="217.80" y2="674.70" stroke="#555" stroke-width="0.8"/>
<line x1="61.25" y1="643.75" x2="61.25" y2="648.25" stroke="#666" stroke-width="0.8"/>
<line x1="59.25" y1="643.75" x2="63.25" y2="643.75" stroke="#666" stroke-width="0.8"/>
<rect x="43.75" y="648.25" width="32.50" height="24.45" fill="#c1c1c1" stroke="#969696" stroke-width="0.9"/>
<line x1="92.00" y1="643.25" x2="92.00" y2="648.00" stroke="#666" stroke-width="0.8"/>
<line x1="90.00" y1="643.25" x2="94.00" y2="643.25" stroke="#666" stroke-width="0.8"/>
<rect x="76.25" y="648.00" width="30.75" height="24.70" fill="#1e1e1e" stroke="none" stroke-width="1"/>
<line x1="130.10" y1="597.60" x2="130.10" y2="602.30" stroke="#666" stroke-width="0.8"/>
<line x1="128.10" y1="597.60" x2="132.10" y2="597.60" stroke="#666" stroke-width="0.8"/>
<rect x="113.90" y="602.30" width="32.10" height="70.40" fill="#c1c1c1" stroke="#969696" stroke-width="0.9"/>
<line x1="162.70" y1="616.25" x2="162.70" y2="620.40" stroke="#666" stroke-width="0.8"/>
<line x1="160.70" y1="616.25" x2="164.70" y2="616.25" stroke="#666" stroke-width="0.8"/>
<rect x="146.80" y="620.40" width="31.20" height="52.30" fill="#1e1e1e" stroke="none" stroke-width="1"/>
<line x1="200.70" y1="552.40" x2="200.70" y2="555.60" stroke="#666" stroke-width="0.8"/>
<line x1="198.70" y1="552.40" x2="202.70" y2="552.40" stroke="#666" stroke-width="0.8"/>
<rect x="185.10" y="555.60" width="32.10" height="117.10" fill="#c1c1c1" stroke="#969696" stroke-width="0.9"/>
<line x1="233.50" y1="593.60" x2="233.50" y2="599.30" stroke="#666" stroke-width="0.8"/>
<line x1="231.50" y1="593.60" x2="235.50" y2="593.60" stroke="#666" stroke-width="0.8"/>
<rect x="218.30" y="599.30" width="31.60" height="73.40" fill="#1e1e1e" stroke="none" stroke-width="1"/>
<line x1="114.75" y1="589.00" x2="141.80" y2="589.00" stroke="#555" stroke-width="1.5"/>
<line x1="153.00" y1="589.00" x2="178.90" y2="589.00" stroke="#555" stroke-width="1.5"/>
<path d="M146.50 589.10L146.50 592.10M147.80 589.85L145.20 591.35M147.80 591.35L145.20 589.85" stroke="#111" stroke-width="1.05" stroke-linecap="round"/>
<line x1="183.20" y1="536.30" x2="211.30" y2="536.30" stroke="#555" stroke-width="1.5"/>
<line x1="226.50" y1="536.30" x2="254.80" y2="536.30" stroke="#555" stroke-width="1.5"/>
<path d="M216.60 537.30L216.60 540.30M217.90 538.05L215.30 539.55M217.90 539.55L215.30 538.05" stroke="#111" stroke-width="1.05" stroke-linecap="round"/>
<path d="M222.40 537.30L222.40 540.30M223.70 538.05L221.10 539.55M223.70 539.55L221.10 538.05" stroke="#111" stroke-width="1.05" stroke-linecap="round"/>
<text x="42.90" y="538.60" font-size="11" stroke="#1a1a1a" stroke-width="0.32" textLength="44.20" lengthAdjust="spacingAndGlyphs">collagen</text>
<text x="42.90" y="558.70" font-size="11" stroke="#1a1a1a" stroke-width="0.32" textLength="50.00" lengthAdjust="spacingAndGlyphs">collagen+</text>
<text x="42.90" y="570.70" font-size="11" stroke="#1a1a1a" stroke-width="0.32" textLength="40.80" lengthAdjust="spacingAndGlyphs">WP9QY</text>
<rect x="99.90" y="528.60" width="21.30" height="21.40" fill="#fff" stroke="#333" stroke-width="1.3"/>
<rect x="101.70" y="530.40" width="17.70" height="17.80" fill="#c1c1c1" stroke="none" stroke-width="1"/>
<rect x="101.25" y="551.75" width="20.00" height="20.00" fill="#1e1e1e" stroke="none" stroke-width="1"/>
<text x="70.90" y="689.30" font-size="10.5" stroke="#1a1a1a" stroke-width="0.32" textLength="14.85" lengthAdjust="spacingAndGlyphs">HS</text>
<text x="132.90" y="689.20" font-size="10.5" stroke="#1a1a1a" stroke-width="0.32" textLength="21.60" lengthAdjust="spacingAndGlyphs">mild</text>
<text x="195.90" y="689.20" font-size="10.5" stroke="#1a1a1a" stroke-width="0.32" textLength="35.00" lengthAdjust="spacingAndGlyphs">severe</text>
<line x1="125.90" y1="692.60" x2="243.30" y2="692.60" stroke="#222" stroke-width="1"/>
<text x="149.10" y="702.70" font-size="10.5" stroke="#1a1a1a" stroke-width="0.32" textLength="14.38" lengthAdjust="spacingAndGlyphs">HF</text>
<text x="167.07" y="702.70" font-size="10.5" stroke="#1a1a1a" stroke-width="0.32" textLength="15.58" lengthAdjust="spacingAndGlyphs">pat</text>
<text x="184.34" y="702.70" font-size="10.5" stroke="#1a1a1a" stroke-width="0.32" textLength="21.17" lengthAdjust="spacingAndGlyphs">ient</text>
<text x="207.01" y="702.70" font-size="10.5" stroke="#1a1a1a" stroke-width="0.32" textLength="4.79" lengthAdjust="spacingAndGlyphs">s</text>
<text x="269.30" y="501.00" font-size="24" stroke="#1a1a1a" stroke-width="0.6" font-weight="bold">F</text>
<text x="273.00" y="519.60" font-size="9" stroke="#1a1a1a" stroke-width="0.32" textLength="10.60" lengthAdjust="spacingAndGlyphs">PA</text>
<text x="289.00" y="519.60" font-size="9" stroke="#1a1a1a" stroke-width="0.32" textLength="14.30" lengthAdjust="spacingAndGlyphs">(%)</text>
<line x1="295.75" y1="535.30" x2="295.75" y2="673.00" stroke="#333" stroke-width="1.2"/>
<line x1="292.80" y1="673.10" x2="295.75" y2="673.10" stroke="#555" stroke-width="0.8"/>
<line x1="292.80" y1="659.32" x2="295.75" y2="659.32" stroke="#555" stroke-width="0.8"/>
<line x1="292.80" y1="645.54" x2="295.75" y2="645.54" stroke="#555" stroke-width="0.8"/>
<line x1="292.80" y1="631.76" x2="295.75" y2="631.76" stroke="#555" stroke-width="0.8"/>
<line x1="292.80" y1="617.98" x2="295.75" y2="617.98" stroke="#555" stroke-width="0.8"/>
<line x1="292.80" y1="604.20" x2="295.75" y2="604.20" stroke="#555" stroke-width="0.8"/>
<line x1="292.80" y1="590.42" x2="295.75" y2="590.42" stroke="#555" stroke-width="0.8"/>
<line x1="292.80" y1="576.64" x2="295.75" y2="576.64" stroke="#555" stroke-width="0.8"/>
<line x1="292.80" y1="562.86" x2="295.75" y2="562.86" stroke="#555" stroke-width="0.8"/>
<line x1="292.80" y1="549.08" x2="295.75" y2="549.08" stroke="#555" stroke-width="0.8"/>
<line x1="292.80" y1="535.30" x2="295.75" y2="535.30" stroke="#555" stroke-width="0.8"/>
<text x="285.80" y="677.14" font-size="9" stroke="#1a1a1a" stroke-width="0.32" text-anchor="end" textLength="5.30" lengthAdjust="spacingAndGlyphs">0</text>
<text x="285.80" y="649.58" font-size="9" stroke="#1a1a1a" stroke-width="0.32" text-anchor="end" textLength="10.60" lengthAdjust="spacingAndGlyphs">20</text>
<text x="285.80" y="622.02" font-size="9" stroke="#1a1a1a" stroke-width="0.32" text-anchor="end" textLength="10.60" lengthAdjust="spacingAndGlyphs">40</text>
<text x="285.80" y="594.46" font-size="9" stroke="#1a1a1a" stroke-width="0.32" text-anchor="end" textLength="10.60" lengthAdjust="spacingAndGlyphs">60</text>
<text x="285.80" y="566.90" font-size="9" stroke="#1a1a1a" stroke-width="0.32" text-anchor="end" textLength="10.60" lengthAdjust="spacingAndGlyphs">80</text>
<text x="285.80" y="539.34" font-size="9" stroke="#1a1a1a" stroke-width="0.32" text-anchor="end" textLength="15.90" lengthAdjust="spacingAndGlyphs">100</text>
<line x1="295.75" y1="672.80" x2="502.50" y2="672.80" stroke="#555" stroke-width="1"/>
<line x1="325.90" y1="672.80" x2="325.90" y2="674.80" stroke="#777" stroke-width="0.7"/>
<line x1="355.40" y1="672.80" x2="355.40" y2="674.80" stroke="#777" stroke-width="0.7"/>
<line x1="394.00" y1="672.80" x2="394.00" y2="674.80" stroke="#777" stroke-width="0.7"/>
<line x1="432.00" y1="672.80" x2="432.00" y2="674.80" stroke="#777" stroke-width="0.7"/>
<line x1="469.30" y1="672.80" x2="469.30" y2="674.80" stroke="#777" stroke-width="0.7"/>
<line x1="309.25" y1="537.50" x2="502.50" y2="537.50" stroke="#222" stroke-width="1.2"/>
<text x="390.00" y="523.75" font-size="9" stroke="#1a1a1a" stroke-width="0.32" textLength="89.25" lengthAdjust="spacingAndGlyphs">subthreshold collagen</text>
<line x1="325.90" y1="668.50" x2="325.90" y2="669.30" stroke="#666" stroke-width="0.8"/>
<line x1="323.90" y1="668.50" x2="327.90" y2="668.50" stroke="#666" stroke-width="0.8"/>
<rect x="318.00" y="669.30" width="15.75" height="3.50" fill="#1e1e1e" stroke="none" stroke-width="1"/>
<line x1="355.40" y1="569.00" x2="355.40" y2="569.50" stroke="#666" stroke-width="0.8"/>
<line x1="353.40" y1="569.00" x2="357.40" y2="569.00" stroke="#666" stroke-width="0.8"/>
<rect x="347.00" y="569.50" width="16.75" height="103.30" fill="#1e1e1e" stroke="none" stroke-width="1"/>
<line x1="394.00" y1="621.80" x2="394.00" y2="624.20" stroke="#666" stroke-width="0.8"/>
<line x1="392.00" y1="621.80" x2="396.00" y2="621.80" stroke="#666" stroke-width="0.8"/>
<rect x="385.90" y="624.20" width="16.10" height="48.60" fill="#1e1e1e" stroke="none" stroke-width="1"/>
<line x1="432.00" y1="640.60" x2="432.00" y2="643.30" stroke="#666" stroke-width="0.8"/>
<line x1="430.00" y1="640.60" x2="434.00" y2="640.60" stroke="#666" stroke-width="0.8"/>
<rect x="423.90" y="643.30" width="16.10" height="29.50" fill="#1e1e1e" stroke="none" stroke-width="1"/>
<line x1="469.30" y1="620.20" x2="469.30" y2="623.10" stroke="#666" stroke-width="0.8"/>
<line x1="467.30" y1="620.20" x2="471.30" y2="620.20" stroke="#666" stroke-width="0.8"/>
<rect x="461.60" y="623.10" width="15.30" height="49.70" fill="#1e1e1e" stroke="none" stroke-width="1"/>
<text x="354.70" y="558.39" font-size="13" stroke="#1a1a1a" stroke-width="0.12" text-anchor="middle" textLength="6.24" lengthAdjust="spacingAndGlyphs">&#167;</text>
<path d="M392.90 612.70L392.90 615.70M394.20 613.45L391.60 614.95M394.20 614.95L391.60 613.45" stroke="#111" stroke-width="1.05" stroke-linecap="round"/>
<path d="M431.20 631.60L431.20 634.60M432.50 632.35L429.90 633.85M432.50 633.85L429.90 632.35" stroke="#111" stroke-width="1.05" stroke-linecap="round"/>
<path d="M468.90 611.90L468.90 614.90M470.20 612.65L467.60 614.15M470.20 614.15L467.60 612.65" stroke="#111" stroke-width="1.05" stroke-linecap="round"/>
<text x="366.25" y="695.50" font-size="9" stroke="#1a1a1a" stroke-width="0.32">+</text>
<text x="377.50" y="695.50" font-size="9" stroke="#1a1a1a" stroke-width="0.32" textLength="23.75" lengthAdjust="spacingAndGlyphs">TNF-&#945;</text>
<text x="407.50" y="695.50" font-size="9" stroke="#1a1a1a" stroke-width="0.32" textLength="10.50" lengthAdjust="spacingAndGlyphs">40</text>
<text x="425.00" y="695.50" font-size="9" stroke="#1a1a1a" stroke-width="0.32" textLength="23.75" lengthAdjust="spacingAndGlyphs">pg/mL</text>
<line x1="346.25" y1="700.80" x2="491.70" y2="700.80" stroke="#222" stroke-width="1"/>
<text x="391.60" y="717.70" font-size="7.5" stroke="#1a1a1a" stroke-width="0.32" text-anchor="middle">+</text>
<text x="431.90" y="715.30" font-size="7.5" stroke="#1a1a1a" stroke-width="0.32" text-anchor="middle">+</text>
<text x="469.90" y="715.30" font-size="7.5" stroke="#1a1a1a" stroke-width="0.32" text-anchor="middle">+</text>
<text x="377.75" y="726.75" font-size="8.3" stroke="#1a1a1a" stroke-width="0.32" textLength="30.00" lengthAdjust="spacingAndGlyphs">WP9QY</text>
<text x="384.40" y="735.50" font-size="8.3" stroke="#1a1a1a" stroke-width="0.32" textLength="17.50" lengthAdjust="spacingAndGlyphs">1 &#956;M</text>
<text x="412.30" y="727.20" font-size="8.3" stroke="#1a1a1a" stroke-width="0.32" textLength="39.00" lengthAdjust="spacingAndGlyphs">AACOCF3</text>
<text x="421.50" y="738.70" font-size="8.3" stroke="#1a1a1a" stroke-width="0.32" textLength="25.40" lengthAdjust="spacingAndGlyphs">14 &#956;M</text>
<text x="461.70" y="727.20" font-size="8.3" stroke="#1a1a1a" stroke-width="0.32" textLength="16.80" lengthAdjust="spacingAndGlyphs">ASA</text>
<text x="456.60" y="738.70" font-size="8.3" stroke="#1a1a1a" stroke-width="0.32" textLength="30.60" lengthAdjust="spacingAndGlyphs">100 &#956;M</text>
</svg>
</body></html>
